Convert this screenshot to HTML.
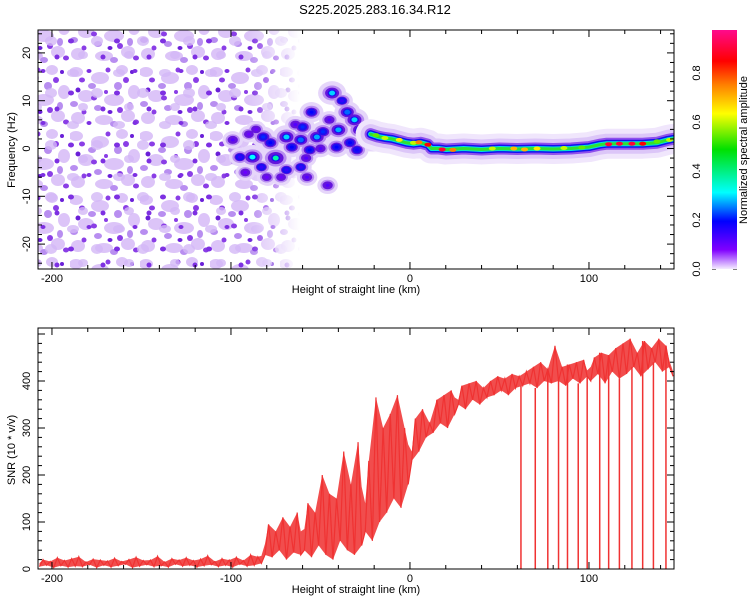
<!DOCTYPE html>
<html><head><meta charset="utf-8"><style>
body{margin:0;background:#fff;}
svg{display:block;font-family:"Liberation Sans",sans-serif;}
</style></head><body>
<svg id="c" width="750" height="600" viewBox="0 0 750 600">
<defs>
<pattern id="nz1" width="70" height="64" patternUnits="userSpaceOnUse">
<g fill="#dcc4f8"><ellipse cx="6" cy="8" rx="7" ry="5"/><ellipse cx="30" cy="14" rx="9" ry="6"/><ellipse cx="52" cy="6" rx="6" ry="5"/><ellipse cx="16" cy="32" rx="8" ry="6"/><ellipse cx="44" cy="36" rx="10" ry="6"/><ellipse cx="64" cy="28" rx="6" ry="7"/><ellipse cx="8" cy="54" rx="7" ry="6"/><ellipse cx="34" cy="56" rx="9" ry="5"/><ellipse cx="58" cy="52" rx="7" ry="6"/></g>
<g fill="#b88ef0"><ellipse cx="22" cy="22" rx="4" ry="3"/><ellipse cx="48" cy="22" rx="4" ry="4"/><ellipse cx="4" cy="40" rx="4" ry="3"/><ellipse cx="28" cy="44" rx="4" ry="3"/><ellipse cx="60" cy="42" rx="3" ry="4"/><ellipse cx="44" cy="60" rx="4" ry="3"/></g>
<g fill="#8a3ee6"><ellipse cx="12" cy="16" rx="3" ry="2.5"/><ellipse cx="38" cy="6" rx="2.5" ry="2.5"/><ellipse cx="56" cy="16" rx="3" ry="3"/><ellipse cx="24" cy="34" rx="3" ry="2.5"/><ellipse cx="50" cy="46" rx="3" ry="3"/><ellipse cx="14" cy="48" rx="2.5" ry="2.5"/><ellipse cx="66" cy="58" rx="3" ry="2.5"/><ellipse cx="36" cy="28" rx="2" ry="2"/></g>
<g fill="#6a1fd8"><ellipse cx="40" cy="48" rx="2.5" ry="2"/><ellipse cx="8" cy="26" rx="2.5" ry="2.5"/><ellipse cx="62" cy="8" rx="2" ry="2"/></g>
</pattern>
<pattern id="nz2" width="46" height="52" patternUnits="userSpaceOnUse" x="17" y="11">
<g fill="#d4b8f6" opacity="0.8"><ellipse cx="10" cy="10" rx="6" ry="4"/><ellipse cx="34" cy="30" rx="6" ry="5"/><ellipse cx="20" cy="44" rx="5" ry="4"/></g>
<g fill="#7d30e2"><ellipse cx="26" cy="8" rx="2.5" ry="2"/><ellipse cx="8" cy="30" rx="3" ry="2.5"/><ellipse cx="40" cy="46" rx="2.5" ry="2.5"/></g>
</pattern>
<linearGradient id="fade" x1="0" x2="1" y1="0" y2="0">
<stop offset="0" stop-color="#fff"/><stop offset="0.8" stop-color="#fff"/><stop offset="0.92" stop-color="#777"/><stop offset="1" stop-color="#000"/>
</linearGradient>
<mask id="fm"><rect x="38" y="30" width="262" height="239" fill="url(#fade)"/></mask>
<linearGradient id="cbar" x1="0" x2="0" y1="0" y2="1">
<stop offset="0" stop-color="#ff0a8c"/><stop offset="0.13" stop-color="#ff0000"/><stop offset="0.23" stop-color="#ff8000"/><stop offset="0.35" stop-color="#ffff00"/><stop offset="0.5" stop-color="#00e000"/><stop offset="0.68" stop-color="#00ffff"/><stop offset="0.8" stop-color="#0000ff"/><stop offset="0.92" stop-color="#8000ff"/><stop offset="1" stop-color="#f4ecff"/>
</linearGradient>
<clipPath id="cpt"><rect x="38" y="30" width="636" height="239"/></clipPath>
<clipPath id="cpb"><rect x="38" y="328" width="636" height="241"/></clipPath>
</defs>
<text x="375" y="14" text-anchor="middle" font-size="13">S225.2025.283.16.34.R12</text>
<g id="topg" clip-path="url(#cpt)">
<g mask="url(#fm)">
<rect x="38" y="30" width="262" height="239" fill="url(#nz1)"/>
<rect x="38" y="30" width="262" height="239" fill="url(#nz2)"/>
</g>
</g>
<g id="botg" clip-path="url(#cpb)"></g>
<g id="axes" stroke="#000" fill="none"></g>
<rect x="712" y="30" width="25" height="239" fill="url(#cbar)"/>
<g font-size="11" text-anchor="middle">
<text transform="translate(700,269) rotate(-90)">0.0</text>
<text transform="translate(700,220) rotate(-90)">0.2</text>
<text transform="translate(700,171) rotate(-90)">0.4</text>
<text transform="translate(700,122) rotate(-90)">0.6</text>
<text transform="translate(700,73) rotate(-90)">0.8</text>
<text transform="translate(747,150) rotate(-90)">Normalized spectral amplitude</text>
<text transform="translate(15,150) rotate(-90)">Frequency (Hz)</text>
<text x="356" y="293">Height of straight line (km)</text>
<text transform="translate(15,450) rotate(-90)">SNR (10 * v/v)</text>
<text x="356" y="593">Height of straight line (km)</text>
</g>
</svg>
<script>
// ---- data ----
const xTicks=[-200,-100,0,100];
const xTickLabels=["-200","-100","0","100"];
const fTicks=[-20,-10,0,10,20];
const snrTicks=[0,100,200,300,400];
// main signal track (height km, frequency Hz)
const trackH=[-22,-18,-14,-10,-6,-2,2,6,10,12,16,20,30,40,50,60,70,80,90,100,106,110,120,130,138,144,147];
const trackF=[3,2.5,2.2,2,1.6,1.2,1,1.2,0.8,0,0,-0.2,0,-0.2,0,-0.1,0,-0.1,0,0.3,0.8,1,1,1,1.2,1.8,2];
// bright spots along track
const spotH=[-19,-14,-6,2,5,10,18,24,46,58,64,71,86,96,111,117,124,130,138,145];
const spotF=[2.8,2.2,1.8,1.2,1.3,0.8,-0.2,-0.3,0,0,-0.2,0,0.1,0.2,0.9,1,1,1,1.5,1.8];
const spotA=[0.55,0.6,0.65,0.6,0.75,0.85,0.9,0.75,0.6,0.7,0.7,0.65,0.6,0.55,0.9,0.9,0.9,0.85,0.55,0.6];
// blobs in transition zone (height km, freq Hz, amplitude)
const blobH=[-99,-95,-88,-83,-82,-78,-75,-69,-69,-66,-61,-61,-60,-57.5,-56,-55,-52,-48.6,-46,-43.5,-41,-40,-35,-33.5,-31,-29.6,-28,-21,-92,-86,-72,-64,-50,-38,-90,-80,-58,-45];
const blobF=[1.8,-1.8,-1.8,-3.9,2.4,1.2,-2,2.4,-4.5,0.3,-3.9,1.8,4.5,-6,-0.3,7.6,2.4,3.5,-7.7,11.6,0.3,3.9,7.6,1.2,6,-0.3,3.9,2.4,-5,4,-6,5,0,10,3,-6,-2,6];
const blobA=[0.12,0.15,0.32,0.15,0.22,0.2,0.38,0.3,0.15,0.2,0.15,0.25,0.22,0.12,0.2,0.2,0.28,0.22,0.12,0.3,0.2,0.28,0.25,0.2,0.3,0.18,0.28,0.45,0.1,0.1,0.1,0.12,0.12,0.15,0.1,0.1,0.12,0.12];
// SNR series at 2 km steps starting at -207 km
const snrStart=-207, snrStep=2;
const snr=[5,20,8,16,3,24,7,18,4,22, 6,26,5,15,9,21,3,19,8,17, 4,23,7,16,10,20,3,25,6,18, 9,19,5,27,7,15,4,22,10,19, 6,24,8,18,4,21,7,28,9,16, 5,22,8,19,4,25,10,18,6,30, 8,26,12,
 30,95,25,80,40,110,20,90,35,120,30,
 40,140,25,120,50,200,30,160,20,150,
 60,250,40,180,30,270,50,
 80,230,60,365,100,300,
 120,330,150,370,130,300,180,
 230,320,250,340,280,310,
 290,360,310,370,300,380,330,
 350,390,340,395,360,400,350,385,365,400,
 370,410,380,405,370,415,385,410,
 390,420,395,430,385,440,400,425,395,475,400,430,390,435,405,440,395,445,410,
 400,450,415,460,395,455,420,470,405,480,415,490,430,460,410,485,425,470,440,490,420,475,430,410];
// dropout heights (km) where SNR falls to zero
const dropH=[62,70,77,83,88,94,99,106,111,117,124,130,136,143];

// ---- scales ----
const X0=38,X1=674;
const xs=h=>X0+(h+207.8)*(X1-X0)/355.3;
const yf=f=>148.5-f*4.78;
const yv=v=>569-v*0.47;
const NS="http://www.w3.org/2000/svg";
function mk(tag,parent){const e=document.createElementNS(NS,tag);parent.appendChild(e);return e;}
function cmap(a){
 const st=[[0,[244,236,255]],[0.08,[128,0,255]],[0.2,[0,0,255]],[0.32,[0,255,255]],[0.5,[0,224,0]],[0.63,[255,255,0]],[0.75,[255,128,0]],[0.85,[255,0,0]],[0.98,[255,10,140]]];
 for(let i=1;i<st.length;i++){if(a<=st[i][0]){const t=(a-st[i-1][0])/(st[i][0]-st[i-1][0]);const c=st[i-1][1].map((v,k)=>Math.round(v+(st[i][1][k]-v)*t));return `rgb(${c})`;}}
 return "rgb(255,10,140)";
}
function ell(p,x,y,rx,ry,c){const e=mk('ellipse',p);e.setAttribute('cx',x);e.setAttribute('cy',y);e.setAttribute('rx',rx);e.setAttribute('ry',ry);e.setAttribute('fill',c);return e;}
const topG=document.getElementById('topg');
// blobs: layered so halos sit under all cores
const bg=mk('g',topG);


[[13,11,'#e6d6fa'],[9,7,'#b78cf0'],[6.5,5,'#6414dc']].forEach(([rx,ry,c])=>{
 blobH.forEach((h,i)=>{ell(bg,xs(h),yf(blobF[i]),rx*(0.6+blobA[i]*1.6),ry*(0.6+blobA[i]*1.6),c);});
});
blobH.forEach((h,i)=>{
 const a=blobA[i];
 if(a>=0.15){ell(bg,xs(h),yf(blobF[i]),4.5,3.5,'#1a10f0');}
 const e=ell(bg,xs(h),yf(blobF[i]),a>=0.25?3:2,a>=0.25?2.4:1.6,cmap(a));
 
 
});
// track bands
const tg=mk('g',topG);


const pts=trackH.map((h,i)=>xs(h)+','+yf(trackF[i])).join(' ');
[[30,'#f0e6fc'],[20,'#dcc6f8'],[12,'#9050ec'],[8,'#1010f0'],[5,'#00e0e0'],[3,'#30e030']].forEach(([w,c])=>{const p=mk('polyline',tg);p.setAttribute('points',pts);p.setAttribute('fill','none');p.setAttribute('stroke',c);p.setAttribute('stroke-width',w);p.setAttribute('stroke-linejoin','round');p.setAttribute('stroke-linecap','round');});
spotH.forEach((h,i)=>{
 const e=ell(tg,xs(h),yf(spotF[i]),3.5,2,cmap(spotA[i]));
 
 
});
// SNR: filled noise band between neighbouring min/max plus the line
const botG=document.getElementById('botg');
const up=[],lo=[];
snr.forEach((v,i)=>{const a=snr[Math.max(0,i-1)],b=snr[Math.min(snr.length-1,i+1)];
 const x=xs(snrStart+i*snrStep);
 up.push(x+','+yv(Math.max(v,(a+b)/2)));lo.unshift(x+','+yv(Math.min(v,(a+b)/2)));});
const band=mk('polygon',botG);


band.setAttribute('points',up.concat(lo).join(' '));
band.setAttribute('fill','#f03a3a');band.setAttribute('opacity','0.9');
const snrLine=mk('polyline',botG);


snrLine.setAttribute('points',snr.map((v,i)=>xs(snrStart+i*snrStep)+','+yv(v)).join(' '));
snrLine.setAttribute('fill','none');snrLine.setAttribute('stroke','#f03232');snrLine.setAttribute('stroke-width','1.2');
dropH.forEach(h=>{
 const idx=Math.round((h-snrStart)/snrStep);
 const l=mk('line',botG);
 
 
 l.setAttribute('x1',xs(h));l.setAttribute('x2',xs(h));l.setAttribute('y1',yv(snr[idx]));l.setAttribute('y2',yv(0));l.setAttribute('stroke','#f03232');l.setAttribute('stroke-width','1.5');
});
// axes
const ax=document.getElementById('axes');
function frame(y0,y1,name){const r=mk('rect',ax);r.setAttribute('x',X0);r.setAttribute('y',y0);r.setAttribute('width',X1-X0);r.setAttribute('height',y1-y0);
 
 }
function tick(x1,y1,x2,y2){const l=mk('line',ax);l.setAttribute('x1',x1);l.setAttribute('y1',y1);l.setAttribute('x2',x2);l.setAttribute('y2',y2);}
function txt(x,y,s,rot,name){const t=mk('text',ax);t.setAttribute('stroke','none');t.setAttribute('fill','#000');t.setAttribute('font-size','11');t.setAttribute('text-anchor','middle');
 if(rot){t.setAttribute('transform',`translate(${x},${y}) rotate(-90)`);}else{t.setAttribute('x',x);t.setAttribute('y',y);}
 t.textContent=s;
 
 }
[[30,269],[328,569]].forEach(([y0,y1],k)=>{
 frame(y0,y1,k?'snr-plot-frame':'spectrogram-frame');
 for(let h=-200;h<=140;h+=20){const x=xs(h),L=(h%100===0)?7:4;tick(x,y1,x,y1-L);tick(x,y0,x,y0+L);}
 xTicks.forEach((h,i)=>txt(xs(h),y1+13,xTickLabels[i],false,'x-tick-label'));
});
for(let f=-24;f<=24;f+=2){const y=yf(f),L=(f%10===0)?7:4;tick(X0,y,X0+L,y);tick(X1,y,X1-L,y);}
fTicks.forEach(f=>txt(30,yf(f),String(f),true,'freq-tick-label'));
for(let v=0;v<=500;v+=20){const y=yv(v),L=(v%100===0)?7:4;tick(X0,y,X0+L,y);tick(X1,y,X1-L,y);}
snrTicks.forEach(v=>txt(30,yv(v),String(v),true,'snr-tick-label'));
for(let a=0;a<=0.9;a+=0.1){const y=269-a*245;tick(712,y,716,y);tick(737,y,733,y);}
</script>
</body></html>
